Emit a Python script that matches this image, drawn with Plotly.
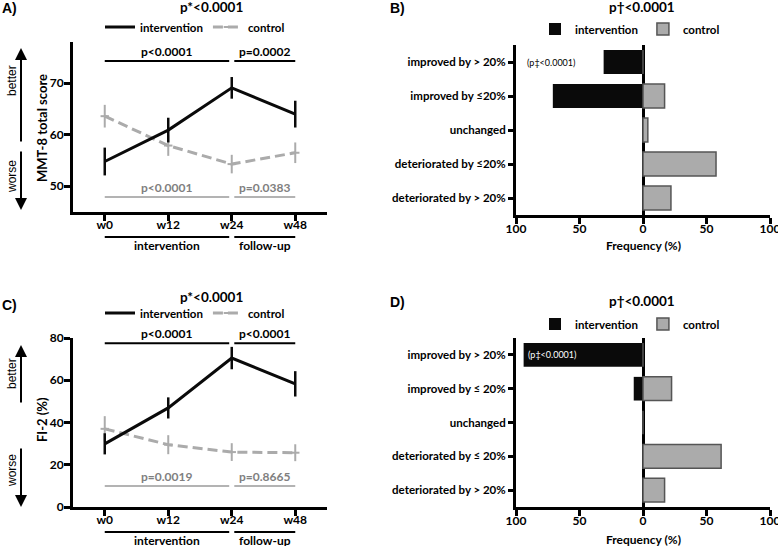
import plotly.graph_objects as go

W, H = 778, 546
def px(x): return x / W
def py(y): return 1 - y / H

weeks = ["w0", "w12", "w24", "w48"]
# Panel A: MMT-8 total score (mean, error)
a_int = [54.8, 60.9, 69.1, 64.0]
a_int_err = [2.7, 2.4, 2.1, 2.6]
a_ctl = [63.6, 57.9, 54.3, 56.5]
a_ctl_err = [2.2, 2.0, 1.8, 2.0]
# Panel C: FI-2 (%)
c_int = [29.9, 46.9, 70.5, 58.3]
c_int_err = [5.0, 5.0, 5.3, 6.0]
c_ctl = [37.0, 29.5, 26.0, 25.7]
c_ctl_err = [6.0, 4.5, 4.2, 4.0]

a_top_p = ["p<0.0001", "p=0.0002"]
a_bot_p = ["p<0.0001", "p=0.0383"]
c_top_p = ["p<0.0001", "p<0.0001"]
c_bot_p = ["p=0.0019", "p=0.8665"]
phases = ["intervention", "follow-up"]

cats_B = ["improved by > 20%", "improved by ≤20%", "unchanged", "deteriorated by ≤20%", "deteriorated by > 20%"]
cats_D = ["improved by > 20%", "improved by ≤ 20%", "unchanged", "deteriorated by ≤ 20%", "deteriorated by > 20%"]
b_int = [31, 71, 0, 0, 0]
b_ctl = [0, 17, 3.8, 57.5, 22]
d_int = [94, 7.3, 0, 0, 0]
d_ctl = [0, 22.5, 0, 61.5, 17]

freq_ticks = [-100, -50, 0, 50, 100]
freq_text = ["100", "50", "0", "50", "100"]

FONT = "Lato"
BLACK = "#0a0a0a"
GREY = "#ababab"
GREY_TXT = "#7f7f7f"

fig = go.Figure()

def line_panel(n, leg, iv, ie, cv, ce):
    xa, ya = f"x{n}", f"y{n}"
    fig.add_trace(go.Scatter(x=weeks, y=cv, mode="lines+markers", name="control",
                             line=dict(color=GREY, width=3, dash="10px,5px"),
                             marker=dict(symbol="line-ew", size=6, line=dict(color=GREY, width=2)),
                             error_y=dict(type="data", array=ce, width=0, thickness=2, color=GREY),
                             xaxis=xa, yaxis=ya, legend=leg, legendrank=2))
    fig.add_trace(go.Scatter(x=weeks, y=iv, mode="lines", name="intervention",
                             line=dict(color=BLACK, width=3),
                             error_y=dict(type="data", array=ie, width=0, thickness=2.5, color=BLACK),
                             xaxis=xa, yaxis=ya, legend=leg, legendrank=1))

def bar_panel(n, leg, cats, iv, cv):
    xa, ya = f"x{n}", f"y{n}"
    fig.add_trace(go.Bar(y=cats, x=[-v for v in iv], orientation="h", name="intervention",
                         width=0.7, marker=dict(color=BLACK, line=dict(width=0)),
                         xaxis=xa, yaxis=ya, legend=leg, legendrank=1))
    fig.add_trace(go.Bar(y=cats, x=cv, orientation="h", name="control",
                         width=0.7, marker=dict(color=GREY, line=dict(color="#555555", width=1.5)),
                         xaxis=xa, yaxis=ya, legend=leg, legendrank=2))

line_panel("", "legend", a_int, a_int_err, a_ctl, a_ctl_err)
bar_panel("2", "legend2", cats_B, b_int, b_ctl)
line_panel("3", "legend3", c_int, c_int_err, c_ctl, c_ctl_err)
bar_panel("4", "legend4", cats_D, d_int, d_ctl)

axis_common = dict(showline=True, linewidth=3, linecolor="black", ticks="outside",
                   ticklen=6, tickwidth=3, tickcolor="black", showgrid=False,
                   zeroline=False, automargin=False, ticklabeloverflow="allow",
                   tickfont=dict(size=12, color="black", weight="bold"))

def line_x(dom, anchor):
    return dict(axis_common, domain=dom, anchor=anchor, range=[-0.5, 3.5], ticklabelstandoff=-6)

def bar_x(dom, anchor):
    return dict(axis_common, domain=dom, anchor=anchor, range=[-100, 100], tickvals=freq_ticks,
                ticktext=freq_text, zeroline=True, zerolinecolor="black", zerolinewidth=3,
                ticklabelstandoff=-5)

def bar_y(dom, anchor, cats):
    return dict(axis_common, domain=dom, anchor=anchor, type="category", categoryorder="array",
                categoryarray=cats, range=[4.5, -0.5], ticklen=5,
                tickfont=dict(size=11.5, color="black", weight="bold"))

layout = dict(
    width=W, height=H, margin=dict(l=0, r=0, t=0, b=0),
    paper_bgcolor="white", plot_bgcolor="white",
    font=dict(family=FONT, size=12, color="black", weight="bold"),
    barmode="overlay", showlegend=True,
    xaxis=line_x([px(73), px(327)], "y"),
    yaxis=dict(axis_common, domain=[py(212), py(42)], anchor="x", range=[45, 78], tickvals=[50, 60, 70],
               ticklabelstandoff=-2),
    xaxis2=bar_x([px(516), px(770)], "y2"),
    yaxis2=bar_y([py(215), py(45)], "x2", cats_B),
    xaxis3=line_x([px(73), px(327)], "y3"),
    yaxis3=dict(axis_common, domain=[py(507), py(338)], anchor="x3", range=[0, 80],
                tickvals=[0, 20, 40, 60, 80], ticklabelstandoff=-2),
    xaxis4=bar_x([px(516), px(770)], "y4"),
    yaxis4=bar_y([py(507), py(338)], "x4", cats_D),
)

def leg(x, y):
    return dict(orientation="h", x=px(x), y=py(y), xanchor="left", yanchor="middle",
                bgcolor="rgba(0,0,0,0)", font=dict(size=11.5, weight="bold"), itemwidth=30)

layout["legend"] = leg(100, 27)
layout["legend2"] = leg(535, 29)
layout["legend3"] = leg(100, 313)
layout["legend4"] = leg(535, 324)
fig.update_layout(**layout)

ann = []
shapes = []

def text(x, y, s, size=12, weight="bold", color="black", xref="paper", yref="paper", **kw):
    ann.append(dict(x=x, y=y, text=s, xref=xref, yref=yref, showarrow=False,
                    font=dict(size=size, weight=weight, color=color, family=kw.pop("family", FONT)), **kw))

# Panel letters and titles
for lbl, x, y in [("A)", 0, 8), ("B)", 388, 8), ("C)", 0, 305), ("D)", 388, 302)]:
    text(px(x), py(y), lbl, size=14, family="Arial", xanchor="left", yanchor="middle")
for t, x, y in [("p*<0.0001", 211, 7), ("p†<0.0001", 642, 7), ("p*<0.0001", 211, 297), ("p†<0.0001", 642, 301)]:
    text(px(x), py(y), t, size=13.5, xanchor="center", yanchor="middle")

spans = [(0, 1.96), (2.04, 3)]
def brackets(n, top_y, top_labels, bot_y, bot_labels, under_y, under_lbl_y):
    xr = f"x{n}"
    yr = f"y{n}"
    for (a, b), tl, bl, ph in zip(spans, top_labels, bot_labels, phases):
        shapes.append(dict(type="line", xref=xr, yref=yr, x0=a, x1=b, y0=top_y, y1=top_y,
                           line=dict(color="black", width=2)))
        text((a + b) / 2, top_y, tl, xref=xr, yref=yr, yanchor="bottom", yshift=0)
        shapes.append(dict(type="line", xref=xr, yref=yr, x0=a, x1=b, y0=bot_y, y1=bot_y,
                           line=dict(color="#b3b3b3", width=2)))
        text((a + b) / 2, bot_y, bl, color=GREY_TXT, xref=xr, yref=yr, yanchor="bottom", yshift=0)
        shapes.append(dict(type="line", xref=xr, yref="paper", x0=a, x1=b, y0=py(under_y), y1=py(under_y),
                           line=dict(color="black", width=2)))
        text((a + b) / 2, py(under_lbl_y), ph, xref=xr, yanchor="middle")

brackets("", 74.3, a_top_p, 47.9, a_bot_p, 237, 246)
brackets("3", 77.5, c_top_p, 10, c_bot_p, 532, 540)

# better / worse arrows
def arrow(x, head, tail):
    ann.append(dict(x=px(x), y=py(head), xref="paper", yref="paper", ax=0, ay=tail - head,
                    text="", showarrow=True, arrowhead=2, arrowsize=1.2, arrowwidth=2, arrowcolor="black"))
for head, tail in [(48, 143), (210, 150), (345, 404), (507, 447)]:
    arrow(21, head, tail)
for s, y in [("better", 81), ("worse", 177), ("better", 374), ("worse", 471)]:
    text(px(12), py(y), s, size=12, weight="normal", family="Arial", textangle=-90,
         xanchor="center", yanchor="middle")

# axis titles
text(px(42), py(128), "MMT-8 total score", size=13, textangle=-90, xanchor="center", yanchor="middle")
text(px(42), py(420), "FI-2 (%)", size=13, textangle=-90, xanchor="center", yanchor="middle")
text(px(643), py(246), "Frequency (%)", size=12, xanchor="center", yanchor="middle")
text(px(643), py(539), "Frequency (%)", size=12, xanchor="center", yanchor="middle")

# p‡ notes
text(-93, cats_B[0], "(p‡<0.0001)", size=9, weight="normal", xref="x2", yref="y2", xanchor="left", yanchor="middle")
text(-92, cats_D[0], "(p‡<0.0001)", size=9, weight="normal", color="white", xref="x4", yref="y4",
     xanchor="left", yanchor="middle")

fig.update_layout(annotations=ann, shapes=shapes)
fig.write_html("out.html", config={"displayModeBar": False},
               post_script="document.body.style.margin='0px';document.body.style.overflow='hidden';")
